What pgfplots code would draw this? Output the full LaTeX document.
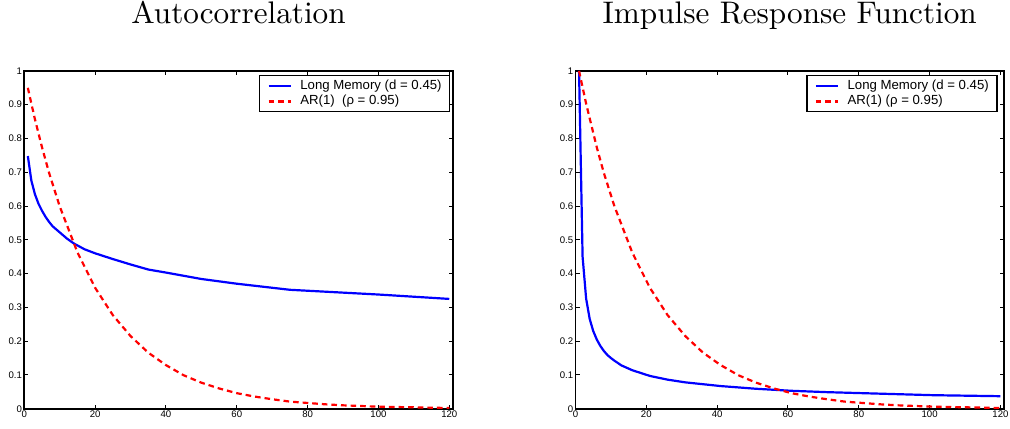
\documentclass[border=0pt]{standalone}
\usepackage{fontspec}
\setsansfont{Liberation Sans}
\newfontfamily\titlefont{lmroman10-regular.otf}
\usepackage{pgfplots}
\pgfplotsset{compat=1.18}

\pgfplotsset{
  matlab/.style={
    width=214.25pt, height=168.9pt, scale only axis,
    xmin=0, xmax=121, ymin=0, ymax=1,
    xtick={0,20,40,60,80,100,120},
    ytick={0,0.1,0.2,0.3,0.4,0.5,0.6,0.7,0.8,0.9,1},
    tick align=inside, major tick length=2pt,
    axis line style={line width=0.9pt},
    every tick/.style={black, line width=0.5pt},
    /pgf/number format/assume math mode=true,
    tick label style={font=\sffamily\fontsize{4.8}{5}\selectfont, inner sep=1pt},
    title style={font=\titlefont\fontsize{15.6}{18}\selectfont, anchor=base, at={(0.5,1)}, yshift=17.5pt},
    legend style={at={(1,1)}, anchor=north east, xshift=-1.2pt, yshift=-2pt,
      draw=black, line width=0.8pt, font=\sffamily\fontsize{6.6}{8}\selectfont,
      inner xsep=4pt, inner ysep=1.2pt, row sep=0pt, column sep=0pt,
      nodes={inner xsep=0pt, inner ysep=0.75pt},
      /tikz/every odd column/.append style={column sep=4.3pt}},
    legend cell align=left,
    legend image code/.code={
      \draw[mark repeat=2,mark phase=2,##1] plot coordinates {(0pt,0pt)(5.5pt,0pt)(11pt,0pt)};},
  },
  lm/.style={blue, line width=1.1pt},
  ar/.style={red, line width=1.1pt, dash pattern=on 2.8pt off 2pt},
}

\begin{document}
\begin{tikzpicture}
\path[use as bounding box] (0,0) rectangle (505pt,214pt);

\begin{axis}[matlab, at={(12.15pt,9.65pt)}, anchor=south west, title={Autocorrelation}]
\addplot[lm] coordinates {
(1,0.748) (2,0.675) (3,0.635) (4,0.607) (5,0.586) (6,0.568) (7,0.553) (8,0.540)
(10,0.522) (12,0.504) (14,0.489) (17,0.472) (20,0.460) (25,0.443) (30,0.427)
(35,0.412) (40,0.403) (50,0.384) (60,0.370) (75,0.352) (100,0.338) (120,0.325)};
\addlegendentry{Long Memory (d = 0.45)}
\addplot[ar] coordinates {
(1,0.950) (2,0.903) (3,0.857) (5,0.774) (7,0.698) (10,0.599) (15,0.463) (20,0.358)
(25,0.277) (30,0.215) (35,0.166) (40,0.129) (45,0.099) (50,0.077) (55,0.060)
(60,0.046) (65,0.036) (70,0.028) (75,0.021) (80,0.017) (85,0.013) (90,0.010)
(95,0.008) (100,0.006) (105,0.005) (110,0.004) (115,0.003) (120,0.002)};
\addlegendentry{AR(1) \ (ρ = 0.95)}
\end{axis}

\begin{axis}[matlab, at={(287.75pt,9.65pt)}, anchor=south west, title={Impulse Response Function},
  legend style={xshift=-2pt}]
\addplot[lm] coordinates {
(1,1.000) (2,0.450) (3,0.326) (4,0.266) (5,0.230) (6,0.205) (7,0.186) (8,0.171)
(9,0.159) (10,0.150) (11,0.142) (13,0.128) (16,0.114) (21,0.097) (26,0.086)
(31,0.078) (41,0.067) (51,0.059) (61,0.053) (71,0.049) (81,0.046) (91,0.043)
(101,0.040) (120,0.037)};
\addlegendentry{Long Memory (d = 0.45)}
\addplot[ar] coordinates {
(1,1.000) (3,0.903) (6,0.774) (8,0.698) (11,0.599) (16,0.463) (21,0.358)
(26,0.277) (31,0.215) (36,0.166) (41,0.129) (46,0.099) (51,0.077) (56,0.060)
(61,0.046) (66,0.036) (71,0.028) (76,0.021) (81,0.017) (86,0.013) (91,0.010)
(96,0.008) (101,0.006) (106,0.005) (111,0.004) (116,0.003) (120,0.002)};
\addlegendentry{AR(1) (ρ = 0.95)}
\end{axis}
\end{tikzpicture}
\end{document}
